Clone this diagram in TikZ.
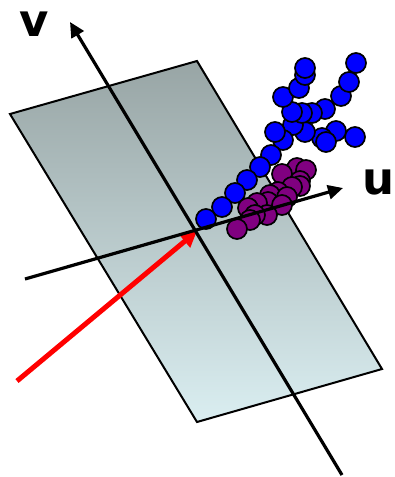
\documentclass[tikz,border=0pt]{standalone}
\usepackage{fontspec}
\setmainfont{DejaVu Sans}
\usetikzlibrary{arrows.meta}
\definecolor{planetop}{RGB}{152,165,165}
\definecolor{planebot}{RGB}{218,238,241}
\definecolor{dotblue}{RGB}{0,0,255}
\definecolor{dotpurple}{RGB}{128,0,128}
\tikzset{
  bdot/.style={circle,draw=black,line width=1.7pt,fill=dotblue,minimum size=20pt,inner sep=0pt},
  pdot/.style={circle,draw=black,line width=1.7pt,fill=dotpurple,minimum size=20pt,inner sep=0pt},
  axis/.style={line width=3.2pt,-{Triangle[length=15pt,width=14pt]}},
  redarrow/.style={line width=5pt,draw=red,-{Triangle[length=16pt,width=16pt]}},
  lbl/.style={font=\bfseries\fontsize{45}{45}\selectfont,inner sep=0pt}
}
\begin{document}
\begin{tikzpicture}[x=1pt,y=-1pt]
\useasboundingbox (0,0) rectangle (395,477);
% plane
\coordinate (p1) at (10,114);
\coordinate (p2) at (197,61);
\coordinate (p3) at (382,369);
\coordinate (p4) at (197,422);
\shade[top color=planetop,bottom color=planebot] (p1) -- (p2) -- (p3) -- (p4) -- cycle;
\draw[line width=2pt,line join=miter] (p1) -- (p2) -- (p3) -- (p4) -- cycle;
% blue dots
\foreach \x/\y [count=\i] in {
  355/137,336/131,322/138,326/142,305/132,293/125,
  341/96,349/82,356/63,
  325/109,312/113,302/113,292/112,
  283/97,299/88,305/75,305/68,
  283/140,275/132,271/155,260/167,247/180,235/193,222/207,206/219}
  \node[bdot] (b\i) at (\x,\y) {};
% purple dots
\foreach \x/\y [count=\i] in {
  297/168,306/170,282/174,300/181,300/186,292/187,278/192,270/195,287/197,
  268/202,257/203,282/205,248/208,267/215,255/215,250/220,237/229}
  \node[pdot] (q\i) at (\x,\y) {};
% red vector
\coordinate (r0) at (17,381);
\coordinate (o) at (197,231);
\draw[redarrow] (r0) -- (o);
% axes
\coordinate (u0) at (25,279);
\coordinate (u1) at (343,188);
\coordinate (v0) at (342,475);
\coordinate (v1) at (70,22);
\draw[axis] (u0) -- (u1);
\draw[axis] (v0) -- (v1);
% labels
\node[lbl] (ul) at (379,183) {u};
\node[lbl] (vl) at (34,24) {v};
\end{tikzpicture}
\end{document}
